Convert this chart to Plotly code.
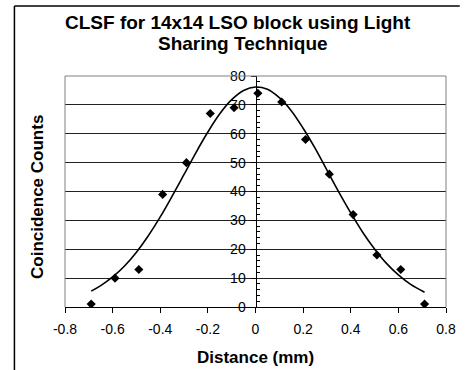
import plotly.graph_objects as go

# measured data points
distance = [-0.69, -0.59, -0.49, -0.39, -0.29, -0.19, -0.09, 0.01, 0.11, 0.21, 0.31, 0.41, 0.51, 0.61, 0.71]
counts = [1, 10, 13, 39, 50, 67, 69, 74, 71, 58, 46, 32, 18, 13, 1]

# fitted curve
fit_x = [-0.69, -0.65, -0.60, -0.55, -0.50, -0.45, -0.40, -0.35, -0.30, -0.25, -0.20, -0.15, -0.10, -0.05,
         0.00, 0.05, 0.10, 0.15, 0.20, 0.25, 0.30, 0.35, 0.40, 0.45, 0.50, 0.55, 0.60, 0.65, 0.71]
fit_y = [5.5, 7.4, 10.4, 14.2, 19.0, 24.7, 31.2, 38.4, 45.9, 53.5, 60.6, 66.9, 71.8, 75.0,
         76.2, 75.4, 72.5, 68.0, 61.9, 55.0, 47.4, 39.8, 32.6, 25.9, 20.1, 15.1, 11.1, 7.9, 5.1]

x_ticks = [-0.8, -0.6, -0.4, -0.2, 0, 0.2, 0.4, 0.6, 0.8]
x_labels = ["-0.8", "-0.6", "-0.4", "-0.2", "0", "0.2", "0.4", "0.6", "0.8"]
y_ticks = [0, 10, 20, 30, 40, 50, 60, 70, 80]

title_lines = ["CLSF for 14x14 LSO block using Light", "Sharing Technique"]
x_title = "Distance (mm)"
y_title = "Coincidence Counts"

FONT = "Liberation Sans, Arial, sans-serif"

# plot area in pixels
PL, PR, PT, PB = 65, 453, 76, 307
W, H = 468, 370


def px(xp):
    return (xp - PL) / (PR - PL)


def py(yp):
    return (PB - yp) / (PB - PT)


fig = go.Figure()
fig.add_trace(go.Scatter(x=fit_x, y=fit_y, mode="lines", line=dict(color="black", width=1.6, shape="spline"),
                         hoverinfo="skip", showlegend=False))
fig.add_trace(go.Scatter(x=distance, y=counts, mode="markers",
                         marker=dict(symbol="diamond", color="black", size=7), showlegend=False))

frame = dict(color="black", width=1.5)
grey = dict(color="#808080", width=1)
fig.update_layout(
    width=W, height=H,
    margin=dict(l=PL, r=W - PR, t=PT, b=H - PB),
    paper_bgcolor="white", plot_bgcolor="white",
    font=dict(family=FONT, color="black", size=14),
    xaxis=dict(range=[-0.8, 0.8], tickvals=x_ticks, ticktext=x_labels, showgrid=False, zeroline=False,
               showline=True, linecolor="black", linewidth=1, ticks="outside", ticklen=5, tickcolor="black",
               tickfont=dict(size=14, family=FONT), anchor="y", ticklabelstandoff=4),
    yaxis=dict(range=[0, 80], tickvals=y_ticks, showgrid=True, gridcolor="#222222", gridwidth=1,
               zeroline=False, showline=True, linecolor="black", linewidth=1,
               anchor="free", position=0.5, ticks="outside", ticklen=5, tickcolor="black",
               tickfont=dict(size=14, family=FONT), ticklabelstandoff=2,
               minor=dict(tickvals=[v for v in range(0, 81, 2) if v % 10 != 0], ticks="inside", ticklen=3,
                          tickcolor="black", showgrid=False)),
    shapes=[
        dict(type="line", xref="paper", yref="paper", x0=0, x1=0, y0=0, y1=1, line=grey),
        dict(type="line", xref="paper", yref="paper", x0=0, x1=1, y0=1, y1=1, line=grey),
        dict(type="line", xref="paper", yref="paper", x0=1, x1=1, y0=0, y1=1, line=grey),
        dict(type="line", xref="paper", yref="paper", x0=px(13.5), x1=px(13.5), y0=py(370), y1=py(6),
             line=frame, layer="above"),
        dict(type="line", xref="paper", yref="paper", x0=px(13.5), x1=px(467), y0=py(6), y1=py(6),
             line=frame, layer="above"),
    ],
    annotations=[
        dict(text="<b>%s</b>" % title_lines[0], xref="paper", yref="paper", x=px(241.5), y=py(22.5),
             showarrow=False, font=dict(size=19, family=FONT), xanchor="center", yanchor="middle"),
        dict(text="<b>%s</b>" % title_lines[1], xref="paper", yref="paper", x=px(246), y=py(43),
             showarrow=False, font=dict(size=19, family=FONT), xanchor="center", yanchor="middle"),
        dict(text="<b>%s</b>" % x_title, xref="paper", yref="paper", x=px(258.5), y=py(357.5),
             showarrow=False, font=dict(size=17, family=FONT), xanchor="center", yanchor="middle"),
        dict(text="<b>%s</b>" % y_title, xref="paper", yref="paper", x=px(37), y=py(197.5),
             textangle=-90, showarrow=False, font=dict(size=17, family=FONT), xanchor="center", yanchor="middle"),
    ],
)

fig.write_html("out.html", config={"displayModeBar": False},
               post_script="document.body.style.margin='0';document.body.style.overflow='hidden';"
                           "document.documentElement.style.overflow='hidden';")
